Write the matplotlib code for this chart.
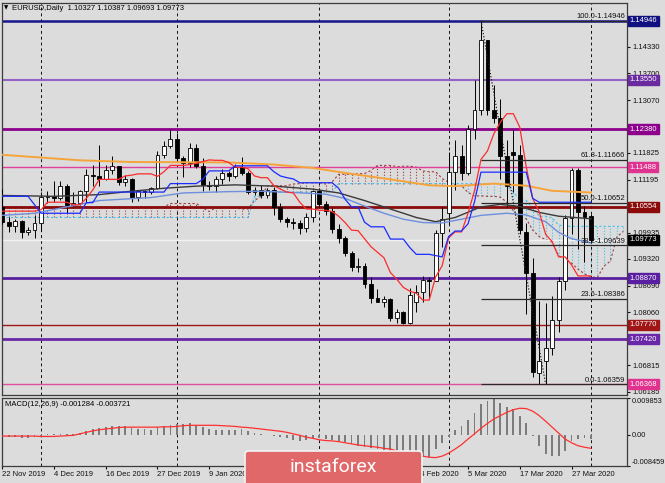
"""EURUSD daily chart with Ichimoku, moving averages, levels, Fibonacci and MACD."""

import matplotlib

matplotlib.use("Agg")
import matplotlib.pyplot as plt  # noqa: E402
from matplotlib.patches import FancyBboxPatch  # noqa: E402
import numpy as np  # noqa: E402

plt.rcParams["font.family"] = ["Liberation Sans", "DejaVu Sans"]

W, H = 665, 483
BG = "#dcdcdc"

# ---- price bars, one per trading day (22 Nov 2019 .. 1 Apr 2020) ----
opens = [1.1055, 1.1020, 1.1011, 1.1021, 1.0996, 1.1000, 1.1017, 1.1078, 1.1081, 1.1077,
         1.1105, 1.1060, 1.1065, 1.1093, 1.1130, 1.1128, 1.1121, 1.1143, 1.1151, 1.1113,
         1.1122, 1.1078, 1.1092, 1.1090, 1.1100, 1.1177, 1.1199, 1.1215, 1.1171, 1.1159,
         1.1195, 1.1152, 1.1106, 1.1105, 1.1120, 1.1134, 1.1128, 1.1150, 1.1136, 1.1090,
         1.1094, 1.1083, 1.1095, 1.1054, 1.1026, 1.1020, 1.1018, 1.1005, 1.1032, 1.1093,
         1.1061, 1.1045, 1.1002, 1.0981, 1.0945, 1.0913, 1.0916, 1.0873, 1.0840, 1.0831,
         1.0837, 1.0792, 1.0806, 1.0780, 1.0830, 1.0853, 1.0882, 1.0880, 1.0994, 1.1040,
         1.1137, 1.1174, 1.1136, 1.1238, 1.1284, 1.1449, 1.1284, 1.1265, 1.1176, 1.1185,
         1.1178, 1.0995, 1.0900, 1.0662, 1.0690, 1.0722, 1.0787, 1.0880, 1.1028, 1.1141,
         1.1043, 1.10327]
highs = [1.1097, 1.1030, 1.1027, 1.1024, 1.1008, 1.1035, 1.1090, 1.1093, 1.1117, 1.1116,
         1.1110, 1.1090, 1.1096, 1.1145, 1.1155, 1.1200, 1.1155, 1.1175, 1.1152, 1.1131,
         1.1124, 1.1094, 1.1094, 1.1102, 1.1188, 1.1210, 1.1239, 1.1229, 1.1175, 1.1206,
         1.1204, 1.1171, 1.1117, 1.1129, 1.1144, 1.1140, 1.1157, 1.1173, 1.1140, 1.1102,
         1.1107, 1.1100, 1.1102, 1.1064, 1.1032, 1.1029, 1.1023, 1.1040, 1.1096, 1.1095,
         1.1068, 1.1052, 1.1015, 1.0987, 1.0951, 1.0934, 1.0923, 1.0890, 1.0862, 1.0844,
         1.0840, 1.0813, 1.0809, 1.0864, 1.0871, 1.0891, 1.0890, 1.1001, 1.1054, 1.1185,
         1.1214, 1.1202, 1.1249, 1.1355, 1.14946, 1.1450, 1.1343, 1.1310, 1.1213, 1.1237,
         1.1200, 1.1017, 1.0935, 1.0832, 1.0829, 1.0845, 1.0890, 1.1035, 1.1147, 1.1147,
         1.1058, 1.10387]
lows = [1.1014, 1.0995, 1.0995, 1.0981, 1.0988, 1.0981, 1.0997, 1.1064, 1.1067, 1.1072,
        1.1040, 1.1057, 1.1060, 1.1067, 1.1105, 1.1105, 1.1118, 1.1132, 1.1106, 1.1105,
        1.1066, 1.1070, 1.1076, 1.1085, 1.1098, 1.1170, 1.1195, 1.1164, 1.1125, 1.1149,
        1.1146, 1.1092, 1.1095, 1.1091, 1.1109, 1.1116, 1.1123, 1.1131, 1.1085, 1.1083,
        1.1075, 1.1075, 1.1036, 1.1020, 1.1008, 1.1003, 1.0992, 1.0995, 1.1020, 1.1055,
        1.1036, 1.0993, 1.0970, 1.0940, 1.0904, 1.0901, 1.0864, 1.0827, 1.0830, 1.0818,
        1.0785, 1.0780, 1.0778, 1.0778, 1.0808, 1.0830, 1.0838, 1.0879, 1.0960, 1.1015,
        1.1095, 1.1118, 1.1130, 1.1216, 1.1273, 1.1271, 1.1253, 1.1122, 1.1055, 1.1090,
        1.0990, 1.0802, 1.0654, 1.0636, 1.06359, 1.0706, 1.0760, 1.0858, 1.0990, 1.0955,
        1.0926, 1.09693]
closes = [1.1020, 1.1011, 1.1021, 1.0996, 1.1000, 1.1017, 1.1078, 1.1081, 1.1077, 1.1105,
          1.1060, 1.1065, 1.1093, 1.1130, 1.1128, 1.1121, 1.1143, 1.1151, 1.1113, 1.1122,
          1.1078, 1.1092, 1.1090, 1.1100, 1.1177, 1.1199, 1.1215, 1.1171, 1.1159, 1.1195,
          1.1152, 1.1106, 1.1105, 1.1120, 1.1134, 1.1128, 1.1150, 1.1136, 1.1090, 1.1094,
          1.1083, 1.1095, 1.1054, 1.1026, 1.1020, 1.1018, 1.1005, 1.1032, 1.1093, 1.1061,
          1.1045, 1.1002, 1.0981, 1.0945, 1.0913, 1.0916, 1.0873, 1.0840, 1.0831, 1.0837,
          1.0792, 1.0806, 1.0780, 1.0847, 1.0853, 1.0882, 1.0880, 1.0994, 1.1026, 1.1137,
          1.1174, 1.1136, 1.1238, 1.1284, 1.1449, 1.1284, 1.1265, 1.1176, 1.1105, 1.1178,
          1.1000, 1.0900, 1.0665, 1.0690, 1.0722, 1.0787, 1.0880, 1.1028, 1.1141, 1.1043,
          1.1031, 1.09773]

# dates under the watermark (21 Jan, 31 Jan, 12 Feb) are not visible, so left out
date_ticks = [0, 8, 16, 24, 32, 64, 72, 80, 88]
date_labels = ["22 Nov 2019", "4 Dec 2019", "16 Dec 2019", "27 Dec 2019", "9 Jan 2020",
               "24 Feb 2020", "5 Mar 2020", "17 Mar 2020", "27 Mar 2020"]
month_starts = [6, 27, 49, 69, 91]

# ---- Ichimoku lines ----
tenkan = [1.1045, 1.1045, 1.1045, 1.1045, 1.1045, 1.1045, 1.1048, 1.1066, 1.1066, 1.1066,
          1.1066, 1.1060, 1.1060, 1.1075, 1.1095, 1.1120, 1.1120, 1.1120, 1.1120, 1.1128,
          1.1130, 1.1133, 1.1133, 1.1133, 1.1127, 1.1138, 1.1153, 1.1153, 1.1153, 1.1155,
          1.1158, 1.1162, 1.1166, 1.1165, 1.1165, 1.1160, 1.1149, 1.1149, 1.1145, 1.1128,
          1.1124, 1.1124, 1.1105, 1.1097, 1.1090, 1.1088, 1.1066, 1.1050, 1.1050, 1.1047,
          1.1047, 1.1044, 1.1033, 1.1018, 1.1000, 1.0999, 1.0980, 1.0961, 1.0948, 1.0935,
          1.0900, 1.0884, 1.0865, 1.0856, 1.0851, 1.0835, 1.0835, 1.0890, 1.0916, 1.0982,
          1.0996, 1.0996, 1.1040, 1.1093, 1.1167, 1.1187, 1.1228, 1.1255, 1.1275, 1.1275,
          1.1243, 1.1149, 1.1075, 1.1043, 1.0990, 1.0973, 1.0937, 1.0937, 1.0918, 1.0892,
          1.0892, 1.0892]
kijun = [1.1080, 1.1080, 1.1080, 1.1080, 1.1080, 1.1060, 1.1040, 1.1040, 1.1040, 1.1040,
         1.1040, 1.1040, 1.1040, 1.1065, 1.1065, 1.1090, 1.1090, 1.1090, 1.1090, 1.1090,
         1.1090, 1.1090, 1.1090, 1.1090, 1.1090, 1.1090, 1.1110, 1.1110, 1.1110, 1.1110,
         1.1110, 1.1120, 1.1140, 1.1140, 1.1140, 1.1140, 1.1152, 1.1152, 1.1152, 1.1152,
         1.1152, 1.1152, 1.1138, 1.1128, 1.1124, 1.1121, 1.1112, 1.1112, 1.1112, 1.1112,
         1.1112, 1.1112, 1.1099, 1.1073, 1.1055, 1.1055, 1.1019, 1.1008, 1.1008, 1.1008,
         1.0979, 1.0979, 1.0979, 1.0959, 1.0943, 1.0943, 1.0943, 1.0940, 1.0937, 1.0985,
         1.0998, 1.0998, 1.1015, 1.1067, 1.1137, 1.1137, 1.1137, 1.1137, 1.1137, 1.1137,
         1.1137, 1.1137, 1.1075, 1.1066, 1.1066, 1.1066, 1.1066, 1.1066, 1.1066, 1.1066,
         1.1066, 1.1066]
span_a = [1.1055] * 26 + [
    1.1063, 1.1063, 1.1063, 1.1063, 1.1063, 1.1053, 1.1044, 1.1053, 1.1053, 1.1053,
    1.1053, 1.1050, 1.1050, 1.1070, 1.1080, 1.1105, 1.1105, 1.1105, 1.1105, 1.1109,
    1.1110, 1.1112, 1.1112, 1.1112, 1.1109, 1.1114, 1.1132, 1.1132, 1.1132, 1.1133,
    1.1134, 1.1141, 1.1153, 1.1153, 1.1153, 1.1150, 1.1151, 1.1151, 1.1149, 1.1140,
    1.1138, 1.1138, 1.1122, 1.1113, 1.1107, 1.1105, 1.1089, 1.1081, 1.1081, 1.1080,
    1.1080, 1.1078, 1.1066, 1.1046, 1.1028, 1.1027, 1.1000, 1.0985, 1.0978, 1.0972,
    1.0940, 1.0932, 1.0922, 1.0908, 1.0897, 1.0889, 1.0889, 1.0915, 1.0927, 1.0984,
    1.0997]
span_b = [1.1030] * 39 + [1.1080, 1.1080] + [1.1090] * 11 + [1.1110] * 26 + [
    1.1105, 1.1090, 1.1072, 1.1070, 1.1052, 1.1033, 1.1033, 1.1029, 1.1012, 1.1010] + [1.1009] * 9

# ---- moving averages (vertices) ----
ma_orange_x = [0, 12, 20, 35, 42, 48, 54, 60, 66, 70, 76, 81, 85, 91]
ma_orange = [1.1178, 1.1165, 1.1161, 1.1160, 1.1155, 1.1147, 1.1133, 1.1120, 1.1106,
             1.1104, 1.1110, 1.1105, 1.1093, 1.1089]
ma_dark_x = [0, 8, 15, 20, 25, 30, 36, 42, 48, 52, 56, 60, 64, 67, 70, 74, 77, 80, 83, 86, 91]
ma_dark = [1.1082, 1.1080, 1.1084, 1.1092, 1.1099, 1.1104, 1.1107, 1.1104, 1.1097, 1.1088,
           1.1070, 1.1050, 1.1030, 1.1020, 1.1030, 1.1055, 1.1061, 1.1056, 1.1042, 1.1033,
           1.1027]
ma_steel_x = [0, 5, 10, 15, 23, 28, 35, 40, 45, 50, 53, 56, 59, 62, 65, 68, 71, 74, 78,
              81, 84, 86, 88, 91]
ma_steel = [1.1035, 1.1040, 1.1055, 1.1070, 1.1077, 1.1088, 1.1091, 1.1092, 1.1089, 1.1085,
            1.1075, 1.1057, 1.1040, 1.1026, 1.1018, 1.1017, 1.1026, 1.1035, 1.1040, 1.1036,
            1.1020, 1.0995, 1.0980, 1.0970]

# ---- horizontal levels, Fibonacci, axis ticks ----
levels = [1.14946, 1.13550, 1.12380, 1.11488, 1.10554, 1.08870, 1.07770, 1.07420, 1.06368]
bid = 1.09773
fib_start, fib_end = 74, 84
fib_ratios = [100.0, 61.8, 50.0, 38.2, 23.6, 0.0]
fib_prices = [1.14946, 1.11666, 1.10652, 1.09639, 1.08386, 1.06359]
price_ticks = [1.14330, 1.13700, 1.13070, 1.12445, 1.11825, 1.11195, 1.09935,
               1.09320, 1.08690, 1.08060, 1.06815, 1.06185]

# ---- MACD(12,26,9) ----
macd_hist = [-0.0006, -0.0007, -0.0007, -0.0008, -0.0008, -0.0007, -0.0003, 0.0001, 0.0001, 0.0002,
             0.0001, 0.0002, 0.0004, 0.0010, 0.0015, 0.0018, 0.0020, 0.0022, 0.0022, 0.0022,
             0.0018, 0.0016, 0.0015, 0.0013, 0.0020, 0.0024, 0.0027, 0.0029, 0.0029, 0.0031,
             0.0025, 0.0020, 0.0016, 0.0013, 0.0013, 0.0013, 0.0013, 0.0014, 0.0009, 0.0003,
             0.0001, -0.0001, -0.0004, -0.0007, -0.0010, -0.0014, -0.0017, -0.0015, -0.0010, -0.0010,
             -0.0012, -0.0014, -0.0016, -0.0020, -0.0026, -0.0030, -0.0034, -0.0037, -0.0039, -0.0041,
             -0.0045, -0.0050, -0.0055, -0.0057, -0.0058, -0.0060, -0.0061, -0.0040, -0.0022, -0.0006,
             0.0013, 0.0024, 0.0039, 0.0057, 0.0083, 0.0091, 0.0095, 0.0086, 0.0075, 0.0069,
             0.0051, 0.0030, -0.0005, -0.0030, -0.0052, -0.0059, -0.0057, -0.0043, -0.0016, -0.0012,
             -0.0009, -0.0013]
macd_signal = [-0.0004, -0.0004, -0.0004, -0.0004, -0.0004, -0.0004, -0.0005, -0.0005, -0.0005, -0.0004,
               -0.0003, -0.0002, 0.0002, 0.0006, 0.0010, 0.0013, 0.0015, 0.0017, 0.0019, 0.0020,
               0.0020, 0.0020, 0.0020, 0.0020, 0.0020, 0.0021, 0.0021, 0.0022, 0.0024, 0.0025,
               0.0025, 0.0025, 0.0025, 0.0025, 0.0024, 0.0023, 0.0022, 0.0020, 0.0019, 0.0017,
               0.0015, 0.0013, 0.0011, 0.0009, 0.0006, 0.0002, -0.0002, -0.0007, -0.0010, -0.0014,
               -0.0016, -0.0017, -0.0019, -0.0022, -0.0025, -0.0028, -0.0030, -0.0032, -0.0034, -0.0037,
               -0.0039, -0.0044, -0.0048, -0.0051, -0.0054, -0.0058, -0.0061, -0.0062, -0.0058, -0.0050,
               -0.0039, -0.0027, -0.0012, 0.0002, 0.0017, 0.0030, 0.0042, 0.0051, 0.0060, 0.0067,
               0.0071, 0.0070, 0.0063, 0.0051, 0.0036, 0.0020, 0.0004, -0.0012, -0.0022, -0.0030,
               -0.0034, -0.0037]
macd_top, macd_bottom = 0.009853, -0.008459

# ---- styles ----
level_colors = ["#16168a", "#9262c6", "#8c008c", "#e0409a", "#8b0a0a", "#5a1fa0", "#a01515",
                "#6a28a8", "#e0509e"]
level_boxes = ["#101080", "#6a2aa0", "#8c008c", "#e0338f", "#8b0a0a", "#5a1fa0", "#a01515",
               "#6a28a8", "#e0338f"]
level_widths = [1.8, 1.5, 2.0, 1.0, 2.0, 2.0, 1.0, 2.0, 1.0]

XMIN, XMAX = -0.03, 96.57
x = np.arange(len(closes))

fig = plt.figure(figsize=(W / 100, H / 100), dpi=100, facecolor=BG)
ax = fig.add_axes([2 / W, 1 - 395 / H, 625 / W, 392 / H], facecolor=BG)
axm = fig.add_axes([2 / W, 1 - 466 / H, 625 / W, 68 / H], facecolor=BG)

# cloud hatch: one dotted vertical per bar
cx = np.arange(len(span_a))
sa, sb = np.array(span_a), np.array(span_b)
up = sa >= sb
ax.vlines(cx[up], sb[up], sa[up], colors="#a03c3c", linestyles=(0, (1, 1.6)), lw=0.8, zorder=1)
ax.vlines(cx[~up], sa[~up], sb[~up], colors="#3fc0f0", linestyles=(0, (1, 1.6)), lw=0.8, zorder=1)
ax.plot(cx, sa, color="#a03c3c", ls=(0, (2, 2)), lw=0.8, zorder=1.2)
ax.plot(cx, sb, color="#3fc0f0", ls=(0, (2, 2)), lw=0.8, zorder=1.2)

# horizontal levels
ax.axhline(bid, color="#f2f2f2", lw=1, zorder=1.5)
for p, c, lw in zip(levels, level_colors, level_widths):
    ax.axhline(p, color=c, lw=lw, zorder=2)

# month separators
for a in (ax, axm):
    for m in month_starts:
        a.axvline(m, color="#111111", ls=(0, (3, 3)), lw=0.7, zorder=1.4)

# candles
o, h, l, c = map(np.array, (opens, highs, lows, closes))
ax.vlines(x, l, h, color="black", lw=0.7, zorder=3.5)
body_lo = np.minimum(o, c)
body_h = np.maximum(np.abs(c - o), 0.00008)
fill = np.where(c >= o, "white", "black")
ax.bar(x, body_h, bottom=body_lo, width=0.6, color=fill, edgecolor="black", linewidth=0.6, zorder=4)

# moving averages and Ichimoku lines
ax.plot(ma_orange_x, ma_orange, color="#f5a43a", lw=1.4, zorder=4.5)
ax.plot(ma_dark_x, ma_dark, color="#3a3a3a", lw=1.0, zorder=4.5)
ax.plot(ma_steel_x, ma_steel, color="#6d8fdc", lw=1.0, zorder=4.5)
ax.plot(x, tenkan, color="#ff2a2a", lw=0.9, zorder=5)
ax.plot(x, kijun, color="#1a2cff", lw=0.9, zorder=5)

# Fibonacci retracement
ax.hlines(fib_prices, fib_start, XMAX, color="#2a2a2a", lw=0.9, zorder=5.5)
ax.plot([fib_start, fib_end], [fib_prices[0], fib_prices[-1]], color="#202020",
        ls=(0, (1, 1.5)), lw=0.9, zorder=5.5)
for r, p in zip(fib_ratios, fib_prices):
    ax.text(XMAX - 0.3, p + 0.0001, f"{r:.1f}-{p:.5f}", ha="right", va="bottom",
            fontsize=5.5, color="#111111", zorder=6)

ax.set_xlim(XMIN, XMAX)
ax.set_ylim(1.06109, 1.15364)
ax.set_xticks([])
ax.yaxis.tick_right()
ax.set_yticks(price_ticks)
ax.set_yticklabels([f"{t:.5f}" for t in price_ticks])
ax.tick_params(axis="y", labelsize=5.5, length=2, pad=2, colors="#111111")

# price boxes on the right scale
for p, bc in zip(levels, level_boxes):
    ax.text(1.0045, p, f"{p:.5f}", transform=ax.get_yaxis_transform(), ha="left",
            va="center", fontsize=5.5, color="white", clip_on=False, zorder=10,
            bbox=dict(boxstyle="square,pad=0.2", fc=bc, ec=bc))
ax.text(1.0045, bid, f"{bid:.5f}", transform=ax.get_yaxis_transform(), ha="left",
        va="center", fontsize=5.5, color="white", clip_on=False, zorder=10,
        bbox=dict(boxstyle="square,pad=0.2", fc="black", ec="black"))

ax.text(4 / W, 1 - 8 / H, "\u25bc", transform=fig.transFigure, fontsize=4,
        va="center", ha="left", family=["DejaVu Sans"])
ax.text(12 / W, 1 - 8 / H, "EURUSD,Daily  1.10327 1.10387 1.09693 1.09773",
        transform=fig.transFigure, fontsize=5.5, va="center", ha="left")

# MACD panel
axm.bar(x, macd_hist, width=0.28, color="#7c7c7c", zorder=2)
axm.plot(x, macd_signal, color="#ff3030", lw=0.9, zorder=3)
axm.set_xlim(XMIN, XMAX)
axm.set_ylim(macd_bottom, macd_top)
axm.yaxis.tick_right()
axm.set_yticks([macd_top, 0.0, macd_bottom])
axm.set_yticklabels([f"{macd_top:.6f}", "0.00", f"{macd_bottom:.6f}"])
ylabs = axm.get_yticklabels()
ylabs[0].set_va("top")
ylabs[2].set_va("bottom")
axm.tick_params(axis="y", labelsize=5.3, length=2, pad=1.2, colors="#111111")
axm.set_xticks(date_ticks)
axm.set_xticklabels(date_labels, ha="left")
axm.tick_params(axis="x", labelsize=5.5, length=2, pad=1.5, colors="#111111")
axm.text(5 / W, 1 - 405 / H, "MACD(12,26,9) -0.001284 -0.003721", transform=fig.transFigure,
         fontsize=5.5, va="center", ha="left")

for a in (ax, axm):
    for s in a.spines.values():
        s.set_color("#3c3c3c")
        s.set_linewidth(0.9)

# watermark
fig.patches.append(FancyBboxPatch((245 / W, -0.02), 177 / W, 32 / H + 0.02,
                                  boxstyle="round,pad=0,rounding_size=0.006",
                                  transform=fig.transFigure, fc="#e06868", ec="#f4f4f4",
                                  lw=1.2, zorder=20))
fig.text(333 / W, 1 - 467 / H, "instaforex", color="white", fontsize=14,
         family=["Roboto", "DejaVu Sans"], ha="center", va="center", zorder=21)

fig.savefig("out.png", dpi=100, facecolor=BG)
plt.close(fig)
